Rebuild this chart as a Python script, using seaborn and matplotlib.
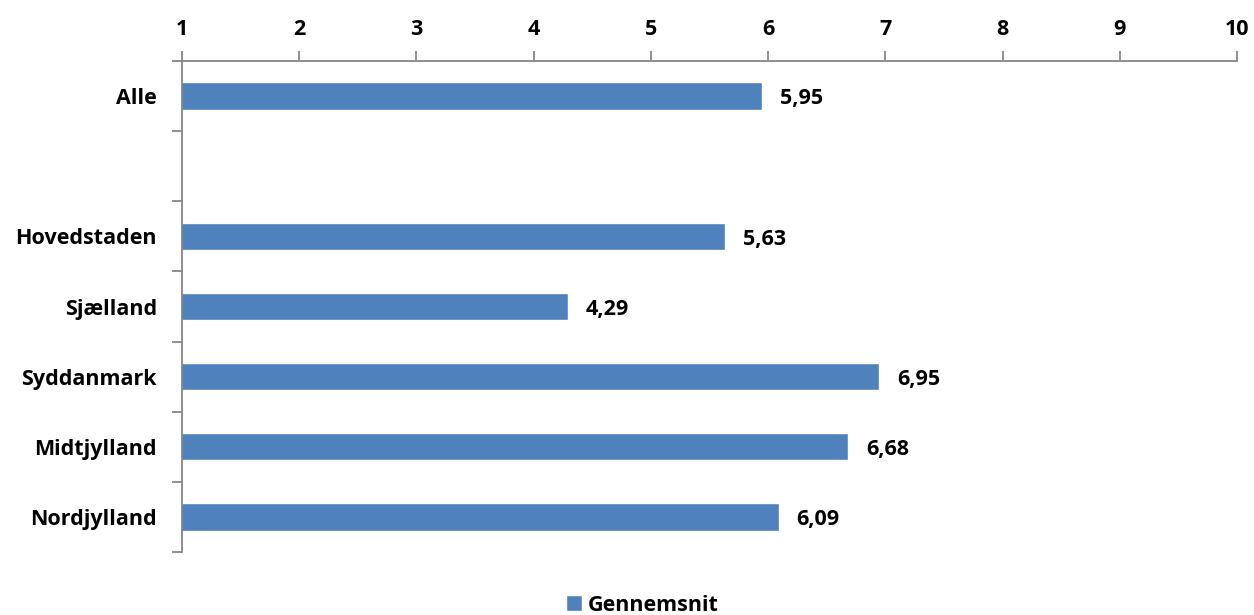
import matplotlib
matplotlib.use('Agg')

import numpy as np
import pandas as pd
import matplotlib.pyplot as plt
import seaborn as sns

regions = ['Alle', ' ', 'Hovedstaden', 'Sjælland', 'Syddanmark', 'Midtjylland', 'Nordjylland']
gennemsnit = [5.95, np.nan, 5.63, 4.29, 6.95, 6.68, 6.09]
series = 'Gennemsnit'

df = pd.DataFrame({'region': regions, 'value': gennemsnit, 'serie': series})

sns.set_style('white')
plt.rcParams['font.family'] = ['Open Sans', 'DejaVu Sans']
plt.rcParams['font.weight'] = 'bold'
plt.rcParams['text.color'] = 'black'
plt.rcParams['xtick.labelcolor'] = 'black'
plt.rcParams['ytick.labelcolor'] = 'black'

fig = plt.figure(figsize=(12.54, 6.15), dpi=100)
ax = fig.add_axes([0.1451, 0.1024, 0.8413, 0.7984])

sns.barplot(data=df, x='value', y='region', hue='serie', order=regions,
            orient='h', palette=['#4F81BD'], width=0.39, dodge=False,
            saturation=1, ax=ax, legend=True)

fs = 15.5
ax.set_xlim(1, 10)
ax.set_ylim(6.5, -0.5)
ax.xaxis.tick_top()
ax.set_xticks(range(1, 11))
ax.set_xticklabels([str(i) for i in range(1, 11)], fontsize=fs, fontweight='bold')
ax.tick_params(axis='x', top=True, direction='out', length=7, width=1.3, color='#868686', pad=8)

ax.set_yticks(range(len(regions)))
ax.set_yticklabels(regions, fontsize=fs, fontweight='bold')
ax.set_yticks(np.arange(-0.5, len(regions)), minor=True)
ax.tick_params(axis='y', which='major', left=True, length=0, pad=18)
ax.tick_params(axis='y', which='minor', left=True, direction='out', length=7, width=1.3, color='#868686')

ax.set_xlabel('')
ax.set_ylabel('')
for s in ['right', 'bottom']:
    ax.spines[s].set_visible(False)
for s in ['left', 'top']:
    ax.spines[s].set_color('#868686')
    ax.spines[s].set_linewidth(1.3)

for i, v in enumerate(gennemsnit):
    if not np.isnan(v):
        ax.annotate(f'{v:.2f}'.replace('.', ','), (v, i), xytext=(13, -2),
                    textcoords='offset points', ha='left', va='center',
                    fontsize=fs, fontweight='bold', color='black')

ax.legend(loc='center', bbox_to_anchor=(0.436, -0.108), frameon=False,
          handlelength=0.75, handleheight=0.75, handletextpad=0.25,
          prop={'size': fs, 'weight': 'bold'})

fig.savefig('out.png', dpi=100)
